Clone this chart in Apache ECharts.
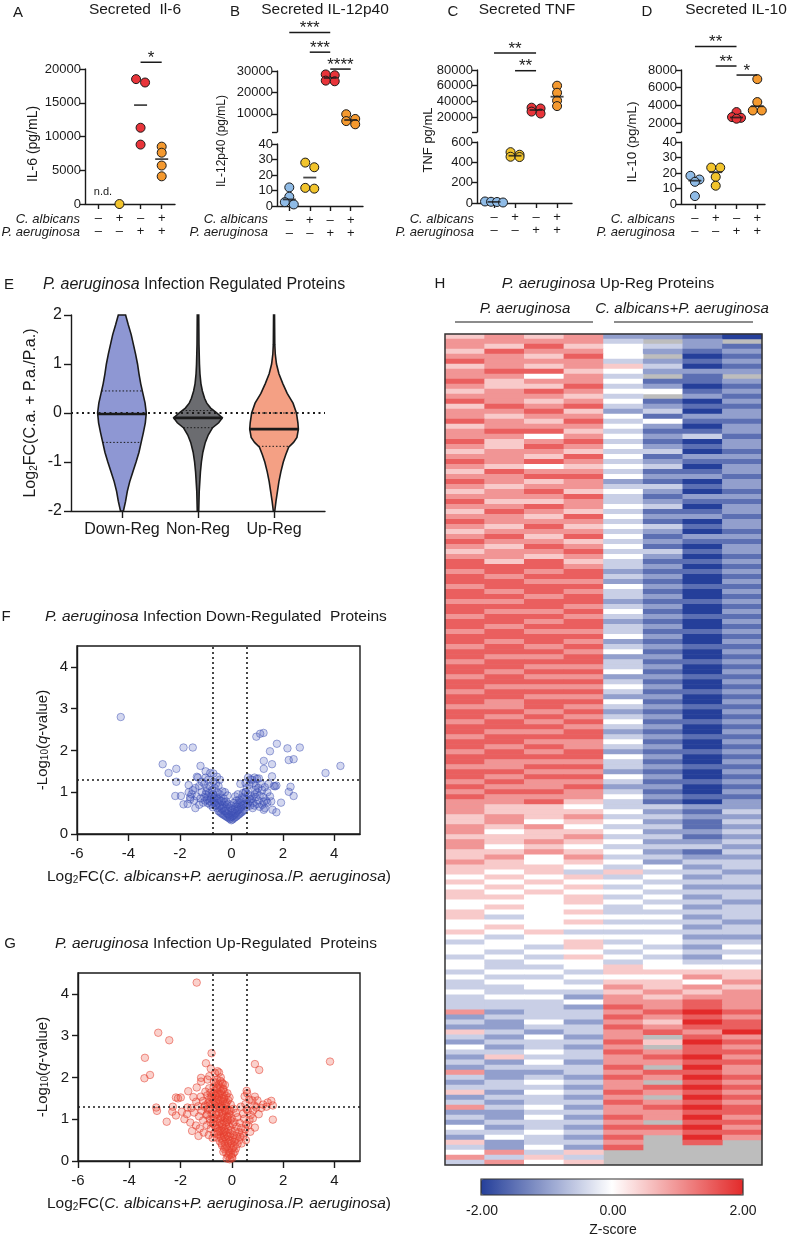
<!DOCTYPE html>
<html>
<head>
<meta charset="utf-8">
<script src="https://cdn.jsdelivr.net/npm/echarts@6.0.0/dist/echarts.min.js"></script>
<style>
html,body{margin:0;padding:0;background:#fff;}
#chart{width:787px;height:1239px;}
</style>
</head>
<body>
<div id="chart"></div>
<script>
// ================= DATA =================
const groupColors = ['#8fbbe6', '#f2c42c', '#e8343a', '#f4992f'];
const conditionCA = ['–', '+', '–', '+'];
const conditionPA = ['–', '–', '+', '+'];

const il6Values  = [[], [0], [18000, 18500, 11300, 8800], [8500, 7600, 5700, 4100]];
const il12Values = [[12, 6, 2.5, 1], [28, 25, 11.7, 11.2], [28400, 28000, 25200, 25500], [9800, 7600, 6600, 5100]];
const tnfValues  = [[15, 12, 10, 5], [500, 475, 455, 452], [32000, 31000, 27000, 24500], [60000, 51000, 41000, 34000]];
const il10Values = [[18.2, 15.8, 14.3, 5.1], [23.5, 23.5, 17.5, 11.8], [3250, 2680, 2600, 2500], [6970, 4380, 3430, 3430]];

const il6Ticks    = [0, 5000, 10000, 15000, 20000];
const il12TicksHi = [10000, 20000, 30000];
const il12TicksLo = [0, 10, 20, 30, 40];
const tnfTicksHi  = [20000, 40000, 60000, 80000];
const tnfTicksLo  = [0, 200, 400, 600];
const il10TicksHi = [2000, 4000, 6000, 8000];
const il10TicksLo = [0, 10, 20, 30, 40];

// significance: [from group, to group, bar level (data units), stars]
const sigA = [[3, 4, 21000, '*']];
const sigB = [[1, 3, 48000, '***'], [2, 3, 38800, '***'], [3, 4, 30900, '****']];
const sigC = [[1, 3, 101700, '**'], [2, 3, 79100, '**']];
const sigD = [[1, 3, 10640, '**'], [2, 3, 8450, '**'], [3, 4, 7430, '*']];

// violin (panel E): [log2FC, relative density]
const violinCategories = ['Down-Reg', 'Non-Reg', 'Up-Reg'];
const violinDown = [[-2,0.06],[-1.8,0.15],[-1.6,0.22],[-1.4,0.32],[-1.2,0.45],[-1.0,0.58],[-0.8,0.7],[-0.6,0.79],[-0.4,0.88],[-0.2,0.96],[0,1.0],[0.2,0.95],[0.4,0.86],[0.6,0.77],[0.8,0.7],[1.0,0.64],[1.2,0.56],[1.4,0.47],[1.6,0.38],[1.8,0.26],[2.0,0.15]];
const violinNon  = [[-2,0.03],[-1.6,0.05],[-1.2,0.1],[-1.0,0.14],[-0.8,0.2],[-0.6,0.3],[-0.45,0.42],[-0.3,0.6],[-0.2,0.85],[-0.1,1.0],[0,0.78],[0.1,0.52],[0.2,0.36],[0.3,0.27],[0.45,0.18],[0.6,0.12],[0.8,0.08],[1.0,0.06],[1.4,0.04],[2.0,0.03]];
const violinUp   = [[-2,0.03],[-1.8,0.08],[-1.6,0.14],[-1.4,0.2],[-1.2,0.28],[-1.0,0.38],[-0.85,0.48],[-0.7,0.6],[-0.6,0.8],[-0.5,0.94],[-0.33,1.0],[-0.2,0.98],[0,0.92],[0.2,0.78],[0.4,0.54],[0.6,0.36],[0.8,0.2],[1.0,0.1],[1.2,0.05],[1.4,0.03],[2.0,0.02]];
const violinMedian = [-0.02, -0.1, -0.33];
const violinQ1 = [-0.6, -0.3, -0.68];
const violinQ3 = [0.45, 0.05, 0.0];
const violinColors = ['#8e97d3', '#6b6c70', '#f4a084'];

// volcano thresholds
const foldThresholds = [-0.737, 0.585];
const qThreshold = 1.301;
const volcanoXTicks = [-6, -4, -2, 0, 2, 4];
const volcanoYTicks = [0, 1, 2, 3, 4];

// panel F: [log2FC, -log10 q]
const volcanoDown = [
[0,0.33],[0.05,0.35],[-0.05,0.36],[0.1,0.38],[-0.1,0.38],[0.15,0.4],[-0.15,0.4],[0.2,0.42],[-0.2,0.42],[0.25,0.45],[-0.25,0.44],[0.3,0.47],[-0.3,0.46],[0.35,0.5],[-0.35,0.48],[0.4,0.52],[-0.4,0.5],[0.45,0.55],[-0.45,0.53],[0.5,0.58],[-0.5,0.55],[0.02,0.42],[-0.08,0.45],[0.12,0.47],[0.08,0.52],[-0.18,0.5],[0.22,0.55],[-0.28,0.56],[0.32,0.6],[-0.38,0.6],[0.0,0.5],[0.05,0.58],[-0.12,0.6],[0.18,0.65],[-0.22,0.66],[0.28,0.7],[-0.32,0.7],[0.42,0.68],[-0.48,0.66],[0.55,0.72],[-0.55,0.62],[-0.6,0.7],[0.6,0.65],
[-0.05,0.4],[0.07,0.44],[-0.13,0.48],[0.17,0.5],[-0.23,0.55],[0.27,0.58],[-0.33,0.62],[0.37,0.64],[-0.43,0.68],[0.47,0.7],[-0.53,0.74],[0.03,0.55],[-0.03,0.62],[0.13,0.6],[-0.17,0.7],[0.23,0.72],[-0.27,0.76],[-0.37,0.78],[-0.47,0.82],[-0.57,0.86],[-0.67,0.88],[-0.77,0.92],[-0.87,0.98],[-0.97,1.02],[-0.62,0.68],[-0.72,0.64],[-0.82,0.7],[-0.92,0.74],[-1.02,0.8],[0.33,0.75],[0.43,0.88],[0.63,0.72],[0.73,0.68],[0.83,0.62],
[-0.65,0.75],[-0.7,0.8],[-0.75,0.72],[-0.8,0.85],[-0.85,0.78],[-0.9,0.9],[-0.95,0.82],[-1.0,0.95],[-1.05,0.88],[-1.1,0.75],[-1.15,1.0],[-1.2,0.85],[-0.6,0.9],[-0.7,0.95],[-0.5,0.85],[-0.4,0.8],[-0.45,0.95],[-0.55,1.0],[-0.3,0.85],[-0.2,0.78],[-0.1,0.72],[0.0,0.68],[0.1,0.75],[0.2,0.8],[0.3,0.82],[0.4,0.78],[0.5,0.85],[0.6,0.82],[0.7,0.78],[0.75,0.9],[0.8,0.85],[0.85,0.75],[0.9,0.95],[0.95,0.88],[1.0,1.0],[1.05,0.8],[1.1,0.92],[0.65,0.95],[0.55,1.0],[0.45,0.98],[0.15,0.9],[0.25,0.95],[-0.15,0.92],[-0.25,1.0],[-0.35,1.02],
[-0.65,1.1],[-0.75,1.05],[-0.85,1.15],[-0.95,1.1],[-1.05,1.2],[-1.15,1.25],[-1.25,1.15],[-1.3,1.35],[-1.4,1.1],[-0.7,1.25],[-0.6,1.2],[-0.9,1.3],[-1.0,1.35],[-0.5,1.15],[-0.45,1.3],[-1.5,1.05],[-1.55,0.95],[-1.35,0.9],[-1.45,0.8],[-1.6,0.88],[-1.7,0.72],[-1.25,0.7],[-1.4,0.62],
[0.6,1.1],[0.7,1.18],[0.85,1.22],[0.95,1.15],[1.05,1.1],[1.15,1.2],[1.2,1.05],[1.3,1.12],[1.4,1.0],[1.5,0.9],[1.35,0.8],[1.25,0.88],[1.45,1.2],[0.8,1.3],[0.9,1.35],[1.0,1.32],[0.55,1.22],[0.65,1.35],[1.65,1.15],[1.7,1.14],[1.75,1.16],[1.2,0.7],[1.1,0.65],[1.3,0.62],[1.0,0.72],[0.9,0.68],[1.55,0.78],[1.6,0.58],
[-4.3,2.8],[-1.86,2.07],[-1.5,2.07],[-2.67,1.67],[-2.14,1.56],[-2.44,1.46],[-1.2,1.63],[-2.14,1.25],[-2.18,0.91],[-1.96,0.91],[-1.86,0.71],[-1.66,1.17],[-1.66,1.0],[-1.6,0.83],[-0.82,1.46],[-0.56,1.37],[-1.34,1.37],[-1.0,1.5],[-0.7,1.45],
[0.97,2.33],[1.12,2.4],[1.25,2.42],[1.77,2.16],[2.18,2.05],[2.66,2.07],[1.5,1.98],[1.26,1.75],[1.58,1.67],[1.26,1.56],[1.58,1.38],[2.23,1.77],[2.42,1.79],[3.66,1.46],[4.24,1.63],[2.23,1.01],[2.42,0.91],[2.3,1.13],[1.93,0.75],[1.75,0.52],[0.74,1.31],[1.07,1.33],[0.35,1.2],[0.55,1.0],[0.93,1.05],[0.74,0.83],[1.26,0.77],[1.4,0.75],[1.26,0.58]
];

// panel G: [log2FC, -log10 q]
const volcanoUp = [
[-0.08,0.04],[0.02,0.07],[-0.15,0.12],[-0.03,0.15],[0.06,0.18],[-0.22,0.2],[-0.12,0.24],[0.0,0.27],[0.11,0.22],[-0.3,0.29],[-0.19,0.33],[-0.07,0.36],[0.05,0.32],[0.16,0.3],[-0.38,0.37],[-0.27,0.41],[-0.14,0.44],[-0.02,0.42],[0.09,0.46],[0.22,0.4],[-0.47,0.47],[-0.35,0.5],[-0.24,0.53],[-0.11,0.51],[0.03,0.55],[0.14,0.52],[0.27,0.49],[-0.58,0.56],[-0.44,0.6],[-0.31,0.63],[-0.18,0.61],[-0.06,0.66],[0.07,0.62],[0.2,0.6],[0.33,0.58],[-0.69,0.66],[-0.53,0.7],[-0.4,0.73],[-0.27,0.71],[-0.15,0.76],[-0.02,0.74],[0.12,0.71],[0.28,0.69],[0.41,0.67],[-0.82,0.77],[-0.63,0.8],[-0.49,0.83],[-0.36,0.81],[-0.23,0.86],[-0.1,0.84],[0.04,0.88],[0.19,0.82],[0.37,0.79],[0.52,0.76],[-0.97,0.86],[-0.74,0.9],[-0.58,0.93],[-0.45,0.91],[-0.32,0.96],[-0.19,0.94],[-0.06,0.98],[0.1,0.93],[0.31,0.91],[0.56,0.88],[-1.12,0.97],[-0.86,1.0],[-0.68,1.03],[-0.54,1.01],[-0.41,1.06],[-0.28,1.04],[-0.15,1.08],[0.0,1.02],[0.22,1.05],[0.48,1.01],[0.69,0.98],[-1.28,1.07],[-0.99,1.1],[-0.79,1.13],[-0.63,1.11],[-0.49,1.16],[-0.37,1.14],[-0.24,1.18],[-0.09,1.12],[0.16,1.15],[0.44,1.13],[0.74,1.1],[-1.47,1.16],[-1.18,1.2],[-0.93,1.23],[-0.76,1.21],[-0.6,1.26],[-0.46,1.24],[-0.33,1.28],[-0.18,1.22],[0.07,1.25],[0.58,1.24],[0.83,1.21],[-1.58,1.27],[-1.31,1.31],[-1.04,1.33],[-0.84,1.36],[-0.67,1.34],[-0.53,1.38],[-0.4,1.32],[-0.26,1.37],[-0.04,1.35],[0.53,1.36],[0.88,1.33],[-1.39,1.42],[-1.12,1.44],[-0.9,1.47],[-0.71,1.45],[-0.57,1.49],[-0.44,1.43],[-0.31,1.48],[-0.14,1.46],[0.68,1.47],[-1.21,1.54],[-0.96,1.57],[-0.77,1.55],[-0.62,1.59],[-0.5,1.53],[-0.37,1.58],[-0.23,1.56],[-0.09,1.52],[-1.03,1.66],[-0.83,1.64],[-0.66,1.68],[-0.54,1.62],[-0.42,1.67],[-0.29,1.65],[-0.17,1.62],[-0.88,1.74],[-0.71,1.77],[-0.58,1.72],[-0.45,1.76],[-0.33,1.73],[-0.63,1.86],[-0.51,1.83],[-0.39,1.88],[-0.27,1.82],
[-0.42,0.55],[-0.33,0.68],[-0.25,0.92],[-0.36,1.1],[-0.5,1.3],[-0.2,1.4],[-0.45,1.02],[-0.55,0.78],[-0.28,0.58],[-0.16,0.98],[-0.05,1.2],[-0.4,1.5],
[-0.62,1.42],[-0.48,1.61],[-0.35,1.71],[-0.57,1.95],[-0.43,2.0],[-0.71,1.62],[-0.81,1.52],[-0.92,1.38],[-0.3,1.52],[-0.22,1.33],[-0.12,1.22],[-0.6,1.12],[-0.72,1.0],[-0.83,0.92],[-0.38,0.88],[-0.3,0.77],[-0.21,0.68],[-0.13,0.58],[-0.05,0.48],[-0.48,0.72],[-0.57,0.64],[-0.66,0.86],[-0.17,1.04],[-0.27,1.22],[-0.52,1.47],[-0.44,1.29],[-0.35,1.43],[-0.64,1.56],[-0.75,1.4],[-0.87,1.25],[-0.97,1.12],[-1.07,1.3],[-0.4,0.42],[-0.25,0.32],[-0.1,0.15],[0.0,0.1],[-0.33,0.22],[0.08,0.35],[-0.2,0.06],[-0.56,1.75],
[-1.85,1.0],[-1.62,0.92],[-1.4,0.85],[-1.75,1.12],[-1.95,1.18],[-2.3,1.3],[-1.55,0.72],[-1.25,0.78],[-1.1,0.68],[-0.9,0.62],[-0.75,0.55],[-1.3,0.6],
[0.35,1.3],[0.62,1.2],[0.95,1.28],[0.82,1.02],[0.64,0.85],[0.45,0.6],[0.55,0.5],[0.38,0.42],[0.72,0.7],[0.9,0.8],[1.05,1.12],[1.22,1.35],[0.5,1.55],[0.6,1.62],
[-1.37,4.27],[-2.87,3.07],[-2.44,2.89],[-3.39,2.47],[-3.41,1.98],[-3.19,2.06],[-0.79,2.58],[-1.01,2.34],[-0.82,2.21],[-0.88,2.03],[-0.56,2.15],[-0.65,2.1],[-0.5,2.12],[-1.2,1.99],[3.83,2.38],[0.9,2.32],[1.07,2.18],[0.58,1.68],[0.9,1.54],[1.0,1.45],[1.54,1.44],[1.4,1.4],[1.6,1.33],[1.35,1.3],[0.8,1.45],[1.15,1.27],[1.6,0.99],[-2.54,0.94],[-2.92,1.2],[-2.95,1.28],[-2.18,1.52],[-1.99,1.52],[-2.1,1.5],[-2.32,1.18],[-2.18,1.09],[-1.73,1.28],[-1.5,1.53],[-1.7,1.67],[-1.37,1.76],[-1.2,1.9],[-0.95,1.95],[-0.7,1.9],[-0.45,1.92],[-0.35,1.85]
];

// heatmap (panel H): one string per protein, 8 samples; digit d -> z = (d-4)/2, 'x' = missing
const heatColumns = ['Pa1', 'Pa2', 'Pa3', 'Pa4', 'CaPa1', 'CaPa2', 'CaPa3', 'CaPa4'];
const heatRows = [
"56562210","66663x2x","65754321","57664212","66574x01","76663212","56565301","67754222","66463x1x","75664112",
"65573201","56764412","66653x21","76564102","57673211","66752302","65664122","76573411","56664202","67753112",
"66464231","75673102","65764212","56653301","66574122","76763211","65454302","57663112","66774221","76562102",
"65663312","56754201","66673122","75563211","66764302","57653112","66574221","76663102","65754312","56663201",
"67574122","76653211","65764102","56673312","66564201","75753112",
"77763201","67672112","76773201","77662102","67774211","76763102","77673201","66772112","77763201","76674102",
"67763211","77672102","76773201","67663112","77774201","76762102","67673211","77764102","76672201","67773112",
"77663201","76774102","67662211","77773102","76664201","67773112","77662201","76774102","66763211","77672102",
"76763201","67674112","77763201","76672102","67773211","77664102","76763201","67672112","77774201","76663102",
"66773211","77662102","76774201","67663112","76672201","67763102","76664211","66753102",
"65543322","65554213","56563322","56454213","65643312","64554223","55563312","65654223","64543332","55654213",
"56463322","65454233","55543423","54535332","45453423","54544333","45453422","54544333","55453423","44454332",
"45443423","54453333","53444423","44453332","45444423","54533333","43444422","34453433","44354324","43443433",
"34354324","43443433",
"43345444","34435555","43344465","34435546","33446565","43335656","34426566","33346676",
"33327676","62336787","23337676","32426587","22337677","53236768","32426x76","23337587","42326x76","33437677",
"25336786","32426677","23337x86","62236776","32327687","23436x76","33326787","52437676","23326x87","32337676",
"63426787","22336677","32427686","23336x77","42327786","33436677","24327x86","52336x7x","32427xxx",
"4635xxxx","6353xxxx","3645xxxx"
];
const zTicks = ['-2.00', '0.00', '2.00'];

// ================= BUILD =================
const FF = "'Liberation Sans', Arial, Helvetica, sans-serif";
const INK = '#1a1a1a';
const grids = [], xAxes = [], yAxes = [], series = [], graphics = [];

function T(x, y, text, o) {
  o = o || {};
  const fs = o.fs || 13;
  const st = {
    text: text, x: 0, y: 0, fill: o.fill || INK, fontSize: fs, fontFamily: FF,
    fontStyle: o.italic ? 'italic' : 'normal', fontWeight: o.bold ? 'bold' : 'normal',
    align: o.align || 'left', textAlign: o.align || 'left',
    verticalAlign: 'middle', textVerticalAlign: 'middle'
  };
  if (o.rich) st.rich = o.rich;
  return { type: 'text', x: x, y: y, rotation: o.rot || 0, style: st, z: 50, silent: true };
}
function richSet(fs) {
  return {
    i: { fontStyle: 'italic', fontSize: fs, fontFamily: FF, fill: INK },
    sub: { fontSize: Math.round(fs * 0.65), fontFamily: FF, fill: INK, verticalAlign: 'bottom' }
  };
}
const axLine = { show: true, onZero: false, lineStyle: { color: INK, width: 1.4 } };
function ticks(len, cv) { return { show: true, inside: false, length: len, lineStyle: { color: INK, width: 1.4 }, customValues: cv }; }
function median(a) { const s = a.slice().sort((p, q) => p - q); const n = s.length; return n % 2 ? s[(n - 1) / 2] : (s[n / 2 - 1] + s[n / 2]) / 2; }
const plain = v => String(v);

function rowOffsets(vals, ppu) {
  const sorted = vals.slice().sort((a, b) => b - a);
  const rows = [];
  sorted.forEach(v => {
    const r = rows[rows.length - 1];
    if (r) {
      const gap = (r[0] - v) * ppu;
      if (gap < 5 && !(r.length >= 2 && gap >= 1.5)) { r.push(v); return; }
    }
    rows.push([v]);
  });
  const OFF = { 1: [0], 2: [-4.5, 4.5], 3: [-7, 0, 7], 4: [-9, -3, 3, 9] };
  const out = [];
  rows.forEach(r => r.forEach((v, i) => out.push([v, OFF[r.length][i]])));
  return out;
}

const dotPanels = [
  { letter: 'A', title: 'Secreted  Il-6', yName: 'IL-6 (pg/mL)', values: il6Values, sig: sigA,
    left: 85, width: 90, xmin: 0.37, xmax: 4.63, letterPos: [18, 13], titlePos: [135, 10], yNamePos: [33, 144], yNameFs: 14, rowRight: 80,
    segs: [{ top: 69, bottom: 204, min: 0, max: 20000, ticks: il6Ticks, labels: il6Ticks }] },
  { letter: 'B', title: 'Secreted IL-12p40', yName: 'IL-12p40 (pg/mL)', values: il12Values, sig: sigB,
    left: 277, width: 86, xmin: 0.4, xmax: 4.6, letterPos: [235, 12], titlePos: [325, 10], yNamePos: [222, 141], yNameFs: 12, rowRight: 268,
    segs: [{ top: 71, bottom: 132, min: 1500, max: 30000, ticks: [1500].concat(il12TicksHi), labels: il12TicksHi },
           { top: 144, bottom: 206, min: 0, max: 40, ticks: il12TicksLo, labels: il12TicksLo }] },
  { letter: 'C', title: 'Secreted TNF', yName: 'TNF pg/mL', values: tnfValues, sig: sigC,
    left: 477, width: 95, xmin: 0.19, xmax: 4.71, letterPos: [453, 12], titlePos: [527, 10], yNamePos: [428, 140], yNameFs: 13, rowRight: 474,
    segs: [{ top: 70, bottom: 132, min: 1000, max: 80000, ticks: [1000].concat(tnfTicksHi), labels: tnfTicksHi },
           { top: 142, bottom: 203, min: 0, max: 600, ticks: tnfTicksLo, labels: tnfTicksLo }] },
  { letter: 'D', title: 'Secreted IL-10', yName: 'IL-10 (pg/mL)', values: il10Values, sig: sigD,
    left: 681, width: 84, xmin: 0.33, xmax: 4.37, letterPos: [647, 12], titlePos: [736, 10], yNamePos: [632, 142], yNameFs: 13.5, rowRight: 675,
    segs: [{ top: 70, bottom: 132, min: 1000, max: 8000, ticks: [1000].concat(il10TicksHi), labels: il10TicksHi },
           { top: 142, bottom: 204, min: 0, max: 40, ticks: il10TicksLo, labels: il10TicksLo }] }
];

dotPanels.forEach(p => {
  const segRefs = p.segs.map((s, si) => {
    const gi = grids.length;
    grids.push({ left: p.left, top: s.top, width: p.width, height: s.bottom - s.top, outerBoundsMode: 'none', containLabel: false });
    const isBottom = si === p.segs.length - 1;
    const xi = xAxes.length;
    xAxes.push({
      gridIndex: gi, type: 'value', min: p.xmin, max: p.xmax, show: isBottom,
      axisLine: axLine, axisTick: ticks(5, [1, 2, 3, 4]),
      axisLabel: { customValues: [1, 2, 3, 4], formatter: v => conditionCA[Math.round(v) - 1] + '\n' + conditionPA[Math.round(v) - 1],
        fontSize: 13, lineHeight: 13, margin: 8, color: INK, fontFamily: FF },
      splitLine: { show: false }
    });
    const yi = yAxes.length;
    yAxes.push({
      gridIndex: gi, type: 'value', min: s.min, max: s.max,
      axisLine: axLine, axisTick: ticks(5, s.ticks),
      axisLabel: { customValues: s.labels, formatter: plain, fontSize: 13, color: INK, margin: 4, fontFamily: FF },
      splitLine: { show: false }
    });
    return { xi, yi, s };
  });
  const pxPerX = p.width / (p.xmax - p.xmin);
  const segOf = v => { for (let k = segRefs.length - 1; k >= 0; k--) { if (v <= segRefs[k].s.max) return segRefs[k]; } return segRefs[0]; };
  p.values.forEach((vals, g) => {
    segRefs.forEach(ref => {
      const mine = vals.filter(v => segOf(v) === ref);
      if (!mine.length) return;
      const ppu = (ref.s.bottom - ref.s.top) / (ref.s.max - ref.s.min);
      const pts = rowOffsets(mine, ppu).map(([v, off]) => [g + 1 + off / pxPerX, v]);
      series.push({ type: 'scatter', xAxisIndex: ref.xi, yAxisIndex: ref.yi, data: pts, symbolSize: 9, clip: false, silent: true, z: 3,
        itemStyle: { color: groupColors[g], borderColor: INK, borderWidth: 1, opacity: 1 } });
    });
    if (vals.length > 1) {
      const m = median(vals); const ref = segOf(m);
      series.push({ type: 'scatter', xAxisIndex: ref.xi, yAxisIndex: ref.yi, data: [[g + 1, m]], symbol: 'rect', symbolSize: [13, 1.8], clip: false, silent: true, z: 4,
        itemStyle: { color: INK } });
    }
  });
  const top = segRefs[0];
  series.push({
    type: 'custom', xAxisIndex: top.xi, yAxisIndex: top.yi, clip: false, silent: true, z: 5,
    data: p.sig.map(r => [r[0], r[1], r[2]]), encode: { x: [0, 1], y: 2 },
    renderItem: (params, api) => {
      const r = p.sig[params.dataIndex];
      const a = api.coord([r[0], r[2]]), b = api.coord([r[1], r[2]]);
      return { type: 'group', children: [
        { type: 'line', shape: { x1: a[0], y1: a[1], x2: b[0], y2: b[1] }, style: { stroke: INK, lineWidth: 1.5 } },
        { type: 'text', x: (a[0] + b[0]) / 2, y: a[1] - 4, style: { text: r[3], fill: INK, fontSize: 17, fontFamily: FF, align: 'center', textAlign: 'center', verticalAlign: 'middle', textVerticalAlign: 'middle' } }
      ] };
    }
  });
  graphics.push(T(p.letterPos[0], p.letterPos[1], p.letter, { fs: 15, align: 'center' }));
  graphics.push(T(p.titlePos[0], p.titlePos[1], p.title, { fs: 15.5, align: 'center' }));
  graphics.push(T(p.yNamePos[0], p.yNamePos[1], p.yName, { fs: p.yNameFs, align: 'center', rot: Math.PI / 2 }));
  graphics.push(T(p.rowRight, 219, 'C. albicans', { fs: 13, align: 'right', italic: true }));
  graphics.push(T(p.rowRight, 232, 'P. aeruginosa', { fs: 13, align: 'right', italic: true }));
});
graphics.push(T(103, 192, 'n.d.', { fs: 11, align: 'center' }));

// ---------- Panel E: violins ----------
(function () {
  const gi = grids.length;
  grids.push({ left: 71, top: 315, width: 254, height: 196, outerBoundsMode: 'none', containLabel: false });
  const xi = xAxes.length;
  xAxes.push({ gridIndex: gi, type: 'value', min: 0.33, max: 3.67, axisLine: axLine, axisTick: ticks(7, [1, 2, 3]),
    axisLabel: { customValues: [1, 2, 3], formatter: v => violinCategories[Math.round(v) - 1], fontSize: 16, color: INK, margin: 11, fontFamily: FF },
    splitLine: { show: false } });
  const yi = yAxes.length;
  yAxes.push({ gridIndex: gi, type: 'value', min: -2, max: 2, interval: 1, axisLine: axLine, axisTick: ticks(7),
    axisLabel: { fontSize: 16, color: INK, margin: 9, fontFamily: FF }, splitLine: { show: false } });
  const profiles = [violinDown, violinNon, violinUp];
  const VW = 0.32;
  const widthAt = (prof, y) => {
    for (let k = 0; k < prof.length - 1; k++) {
      const [y0, d0] = prof[k], [y1, d1] = prof[k + 1];
      if (y >= y0 && y <= y1) return d0 + (d1 - d0) * (y - y0) / (y1 - y0);
    }
    return 0;
  };
  series.push({
    type: 'custom', xAxisIndex: xi, yAxisIndex: yi, clip: false, silent: true, z: 3,
    data: [[1, 0], [2, 0], [3, 0]], encode: { x: 0, y: 1 },
    renderItem: (params, api) => {
      const g = params.dataIndex, prof = profiles[g], cx = g + 1;
      const right = prof.map(([y, d]) => api.coord([cx + d * VW, y]));
      const left = prof.slice().reverse().map(([y, d]) => api.coord([cx - d * VW, y]));
      const hl = (y, dashed, lw) => {
        const d = widthAt(prof, y);
        const a = api.coord([cx - d * VW, y]), b = api.coord([cx + d * VW, y]);
        return { type: 'line', shape: { x1: a[0], y1: a[1], x2: b[0], y2: b[1] }, style: { stroke: INK, lineWidth: lw, lineDash: dashed ? [1.5, 2] : null } };
      };
      return { type: 'group', children: [
        { type: 'polygon', shape: { points: right.concat(left) }, style: { fill: violinColors[g], stroke: INK, lineWidth: 1.6 } },
        hl(violinQ1[g], true, 1), hl(violinQ3[g], true, 1), hl(violinMedian[g], false, 2.6)
      ] };
    },
    markLine: { silent: true, symbol: 'none', label: { show: false }, lineStyle: { color: INK, type: [2, 3.5], width: 1.8 }, data: [{ yAxis: 0 }] }
  });
  graphics.push(T(9, 285, 'E', { fs: 15, align: 'center' }));
  graphics.push(T(43, 285, '{i|P. aeruginosa} Infection Regulated Proteins', { fs: 16, rich: richSet(16) }));
  graphics.push(T(31, 413, 'Log{sub|2}FC(C.a. + P.a./P.a.)', { fs: 16, align: 'center', rot: Math.PI / 2, rich: richSet(16) }));
})();

// ---------- Panels F, G: volcano ----------
function volcano(cfg) {
  const gi = grids.length;
  grids.push({ left: cfg.left, top: cfg.top, width: cfg.width, height: cfg.height, show: true, borderColor: INK, borderWidth: 1.4, backgroundColor: 'transparent', outerBoundsMode: 'none', containLabel: false });
  const xi = xAxes.length;
  xAxes.push({ gridIndex: gi, type: 'value', min: -6, max: 5, axisLine: axLine, axisTick: ticks(7, volcanoXTicks),
    axisLabel: { customValues: volcanoXTicks, fontSize: 15, color: INK, margin: 12, fontFamily: FF }, splitLine: { show: false } });
  const yi = yAxes.length;
  yAxes.push({ gridIndex: gi, type: 'value', min: 0, max: 4.5, axisLine: axLine, axisTick: ticks(6, volcanoYTicks),
    axisLabel: { customValues: volcanoYTicks, fontSize: 15, color: INK, margin: 9, fontFamily: FF }, splitLine: { show: false } });
  series.push({ type: 'scatter', xAxisIndex: xi, yAxisIndex: yi, data: cfg.data, symbolSize: 7.5, silent: true, z: 3,
    itemStyle: { color: cfg.fill, borderColor: cfg.stroke, borderWidth: 1 },
    markLine: { silent: true, symbol: 'none', label: { show: false }, lineStyle: { color: INK, type: [2, 3], width: 1.6 },
      data: [{ xAxis: foldThresholds[0] }, { xAxis: foldThresholds[1] }, { yAxis: qThreshold }] } });
  const bottom = cfg.top + cfg.height;
  graphics.push(T(cfg.letterPos[0], cfg.letterPos[1], cfg.letter, { fs: 15, align: 'center' }));
  graphics.push(T(cfg.titleLeft, cfg.letterPos[1], cfg.title, { fs: 15.5, rich: richSet(15.5) }));
  graphics.push(T(219, bottom + 43, 'Log{sub|2}FC({i|C. albicans}+{i|P. aeruginosa}./{i|P. aeruginosa})', { fs: 15.5, align: 'center', rich: richSet(15.5) }));
  graphics.push(T(43, cfg.top + cfg.height / 2, '-Log{sub|10}({i|q}-value)', { fs: 15, align: 'center', rot: Math.PI / 2, rich: richSet(15) }));
}
volcano({ left: 77, top: 646, width: 283, height: 188, data: volcanoDown, fill: 'rgba(72,92,188,0.3)', stroke: 'rgba(58,78,178,0.6)',
  letter: 'F', letterPos: [6, 617], titleLeft: 45, title: '{i|P. aeruginosa} Infection Down-Regulated  Proteins' });
volcano({ left: 78, top: 973, width: 282, height: 188, data: volcanoUp, fill: 'rgba(236,78,58,0.32)', stroke: 'rgba(228,60,44,0.65)',
  letter: 'G', letterPos: [10, 944], titleLeft: 55, title: '{i|P. aeruginosa} Infection Up-Regulated  Proteins' });

// ---------- Panel H: heatmap ----------
(function () {
  const H = { left: 445, top: 334, width: 317, height: 831 };
  const gi = grids.length;
  grids.push({ left: H.left, top: H.top, width: H.width, height: H.height, show: true, backgroundColor: '#bdbdbd', borderWidth: 0, outerBoundsMode: 'none', containLabel: false });
  const xi = xAxes.length;
  xAxes.push({ gridIndex: gi, type: 'category', data: heatColumns, show: false });
  const yi = yAxes.length;
  yAxes.push({ gridIndex: gi, type: 'category', data: heatRows.map((r, i) => 'p' + i), inverse: true, show: false });
  const data = [];
  heatRows.forEach((row, r) => {
    for (let c = 0; c < 8; c++) {
      const ch = row[c];
      if (ch === 'x') continue;
      data.push([c, r, (parseInt(ch, 10) - 4) / 2]);
    }
  });
  series.push({ type: 'heatmap', xAxisIndex: xi, yAxisIndex: yi, data: data, silent: true, itemStyle: { borderWidth: 0 }, emphasis: { disabled: true }, progressive: 0 });
  graphics.push({ type: 'rect', shape: { x: H.left, y: H.top, width: H.width, height: H.height }, style: { fill: 'none', stroke: '#333', lineWidth: 1.5 }, z: 40, silent: true });
  graphics.push(T(440, 284, 'H', { fs: 15, align: 'center' }));
  graphics.push(T(608, 284, '{i|P. aeruginosa} Up-Reg Proteins', { fs: 15.5, align: 'center', rich: richSet(15.5) }));
  graphics.push(T(525, 309, 'P. aeruginosa', { fs: 15, align: 'center', italic: true }));
  graphics.push(T(682, 309, 'C. albicans+P. aeruginosa', { fs: 15, align: 'center', italic: true }));
  graphics.push({ type: 'line', shape: { x1: 455, y1: 322, x2: 593, y2: 322 }, style: { stroke: INK, lineWidth: 1.2 }, silent: true });
  graphics.push({ type: 'line', shape: { x1: 614, y1: 322, x2: 753, y2: 322 }, style: { stroke: INK, lineWidth: 1.2 }, silent: true });
  graphics.push({ type: 'rect', shape: { x: 481, y: 1179, width: 262, height: 16 }, style: { fill: 'none', stroke: '#333', lineWidth: 1.2 }, z: 40, silent: true });
  graphics.push(T(482, 1211, zTicks[0], { fs: 14, align: 'center' }));
  graphics.push(T(613, 1211, zTicks[1], { fs: 14, align: 'center' }));
  graphics.push(T(743, 1211, zTicks[2], { fs: 14, align: 'center' }));
  graphics.push(T(613, 1230, 'Z-score', { fs: 14, align: 'center' }));
})();

const heatSeriesIndex = series.findIndex(s => s.type === 'heatmap');
const option = {
  animation: false,
  backgroundColor: '#ffffff',
  textStyle: { fontFamily: FF },
  grid: grids, xAxis: xAxes, yAxis: yAxes, series: series,
  visualMap: [{
    type: 'continuous', seriesIndex: heatSeriesIndex, min: -2, max: 2, orient: 'horizontal',
    left: 481, top: 1179, itemWidth: 16, itemHeight: 262, padding: 0, calculable: false, show: true, text: null,
    inRange: { color: ['#253f9a', '#ffffff', '#e32a2a'] }
  }],
  graphic: { elements: graphics }
};
const chart = echarts.init(document.getElementById('chart'), null, { renderer: 'canvas' });
chart.setOption(option);
</script>
</body>
</html>
